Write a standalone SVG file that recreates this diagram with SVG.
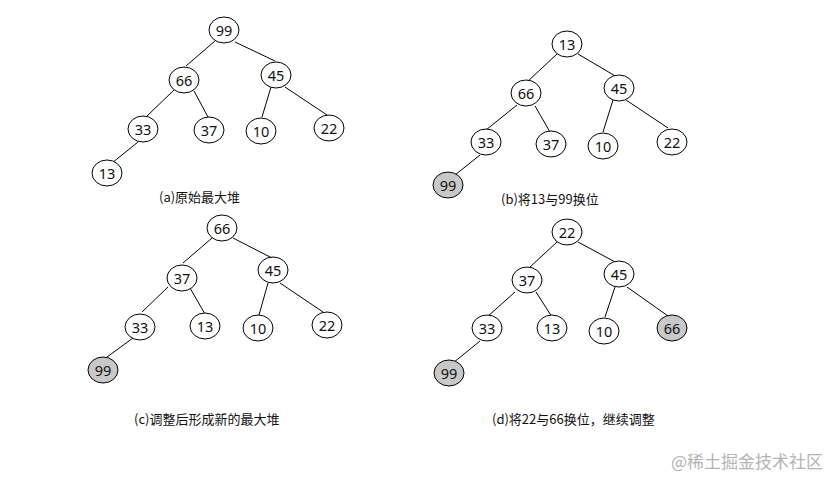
<svg xmlns="http://www.w3.org/2000/svg" width="833" height="479" viewBox="0 0 833 479">
<style>
.n ellipse{fill:#fff;stroke:#000;stroke-width:1}
.n.g ellipse{fill:#c8c8c8}
.n text{font-family:"Noto Sans","Noto Sans CJK SC",sans-serif;font-size:14.5px;fill:#111;text-anchor:middle;dominant-baseline:central}
.e line{stroke:#000;stroke-width:1}
.cap{font-family:"Noto Sans CJK SC","Noto Sans",sans-serif;font-size:13px;fill:#111}
.wm{font-family:"Noto Sans CJK SC",sans-serif;font-size:17px;fill:#b4b4b4}
</style>
<rect width="833" height="479" fill="#fff"/>
<g class="e" id="edges">
<line x1="215" y1="41" x2="186" y2="66"/><line x1="235" y1="42" x2="275" y2="61"/><line x1="175" y1="89" x2="146" y2="117"/><line x1="194" y1="91" x2="208" y2="117"/><line x1="271" y1="87" x2="262" y2="117"/><line x1="285" y1="87" x2="327" y2="115"/><line x1="138" y1="142" x2="112" y2="163"/>
<line x1="557" y1="54" x2="527" y2="82"/><line x1="578" y1="54" x2="617" y2="77"/><line x1="517" y1="105" x2="486" y2="130"/><line x1="535" y1="106" x2="550" y2="132"/><line x1="613" y1="100" x2="603" y2="132"/><line x1="626" y1="100" x2="668" y2="128"/><line x1="480" y1="155" x2="455" y2="175"/>
<line x1="212" y1="238" x2="183" y2="263"/><line x1="233" y1="238" x2="272" y2="258"/><line x1="168" y1="287" x2="142" y2="312"/><line x1="190" y1="288" x2="205" y2="314"/><line x1="268" y1="283" x2="259" y2="315"/><line x1="280" y1="283" x2="323" y2="312"/><line x1="133" y1="338" x2="107" y2="357"/>
<line x1="557" y1="242" x2="530" y2="267"/><line x1="578" y1="242" x2="617" y2="263"/><line x1="515" y1="292" x2="487" y2="317"/><line x1="536" y1="292" x2="552" y2="317"/><line x1="615" y1="287" x2="605" y2="317"/><line x1="627" y1="287" x2="668" y2="316"/><line x1="480" y1="341" x2="453" y2="363"/>
</g>
<g id="a99" class="n"><ellipse cx="224" cy="30" rx="15" ry="13"/><text x="224" y="30">99</text></g>
<g id="a66" class="n"><ellipse cx="184" cy="80" rx="15" ry="13"/><text x="184" y="80">66</text></g>
<g id="a45" class="n"><ellipse cx="276" cy="75" rx="15" ry="13"/><text x="276" y="75">45</text></g>
<g id="a33" class="n"><ellipse cx="143" cy="129" rx="15" ry="13"/><text x="143" y="129">33</text></g>
<g id="a37" class="n"><ellipse cx="209" cy="130" rx="15" ry="13"/><text x="209" y="130">37</text></g>
<g id="a10" class="n"><ellipse cx="261" cy="131" rx="15" ry="13"/><text x="261" y="131">10</text></g>
<g id="a22" class="n"><ellipse cx="329" cy="128" rx="15" ry="13"/><text x="329" y="128">22</text></g>
<g id="a13" class="n"><ellipse cx="107" cy="173" rx="15" ry="13"/><text x="107" y="173">13</text></g>
<text class="cap" x="159" y="202">(a)原始最大堆</text>

<g id="b13" class="n"><ellipse cx="567" cy="44" rx="15" ry="13"/><text x="567" y="44">13</text></g>
<g id="b66" class="n"><ellipse cx="526" cy="93" rx="15" ry="13"/><text x="526" y="93">66</text></g>
<g id="b45" class="n"><ellipse cx="619" cy="88" rx="15" ry="13"/><text x="619" y="88">45</text></g>
<g id="b33" class="n"><ellipse cx="486" cy="142" rx="15" ry="13"/><text x="486" y="142">33</text></g>
<g id="b37" class="n"><ellipse cx="551" cy="144" rx="15" ry="13"/><text x="551" y="144">37</text></g>
<g id="b10" class="n"><ellipse cx="603" cy="146" rx="15" ry="13"/><text x="603" y="146">10</text></g>
<g id="b22" class="n"><ellipse cx="672" cy="142" rx="15" ry="13"/><text x="672" y="142">22</text></g>
<g id="b99" class="n g"><ellipse cx="448" cy="185" rx="15" ry="13"/><text x="448" y="185">99</text></g>
<text class="cap" x="501" y="204">(b)将13与99换位</text>

<g id="c66" class="n"><ellipse cx="222" cy="228" rx="15" ry="13"/><text x="222" y="228">66</text></g>
<g id="c37" class="n"><ellipse cx="182" cy="278" rx="15" ry="13"/><text x="182" y="278">37</text></g>
<g id="c45" class="n"><ellipse cx="273" cy="270" rx="15" ry="13"/><text x="273" y="270">45</text></g>
<g id="c33" class="n"><ellipse cx="140" cy="327" rx="15" ry="13"/><text x="140" y="327">33</text></g>
<g id="c13" class="n"><ellipse cx="205" cy="326" rx="15" ry="13"/><text x="205" y="326">13</text></g>
<g id="c10" class="n"><ellipse cx="258" cy="328" rx="15" ry="13"/><text x="258" y="328">10</text></g>
<g id="c22" class="n"><ellipse cx="327" cy="325" rx="15" ry="13"/><text x="327" y="325">22</text></g>
<g id="c99" class="n g"><ellipse cx="103" cy="370" rx="15" ry="13"/><text x="103" y="370">99</text></g>
<text class="cap" x="134" y="424">(c)调整后形成新的最大堆</text>

<g id="d22" class="n"><ellipse cx="567" cy="232" rx="15" ry="13"/><text x="567" y="232">22</text></g>
<g id="d37" class="n"><ellipse cx="527" cy="280" rx="15" ry="13"/><text x="527" y="280">37</text></g>
<g id="d45" class="n"><ellipse cx="619" cy="274" rx="15" ry="13"/><text x="619" y="274">45</text></g>
<g id="d33" class="n"><ellipse cx="487" cy="328" rx="15" ry="13"/><text x="487" y="328">33</text></g>
<g id="d13" class="n"><ellipse cx="552" cy="328" rx="15" ry="13"/><text x="552" y="328">13</text></g>
<g id="d10" class="n"><ellipse cx="604" cy="331" rx="15" ry="13"/><text x="604" y="331">10</text></g>
<g id="d66" class="n g"><ellipse cx="672" cy="328" rx="15" ry="13"/><text x="672" y="328">66</text></g>
<g id="d99" class="n g"><ellipse cx="449" cy="373" rx="15" ry="13"/><text x="449" y="373">99</text></g>
<text class="cap" x="492" y="424">(d)将22与66换位，继续调整</text>

<text class="wm" x="671" y="468">@稀土掘金技术社区</text>
</svg>
